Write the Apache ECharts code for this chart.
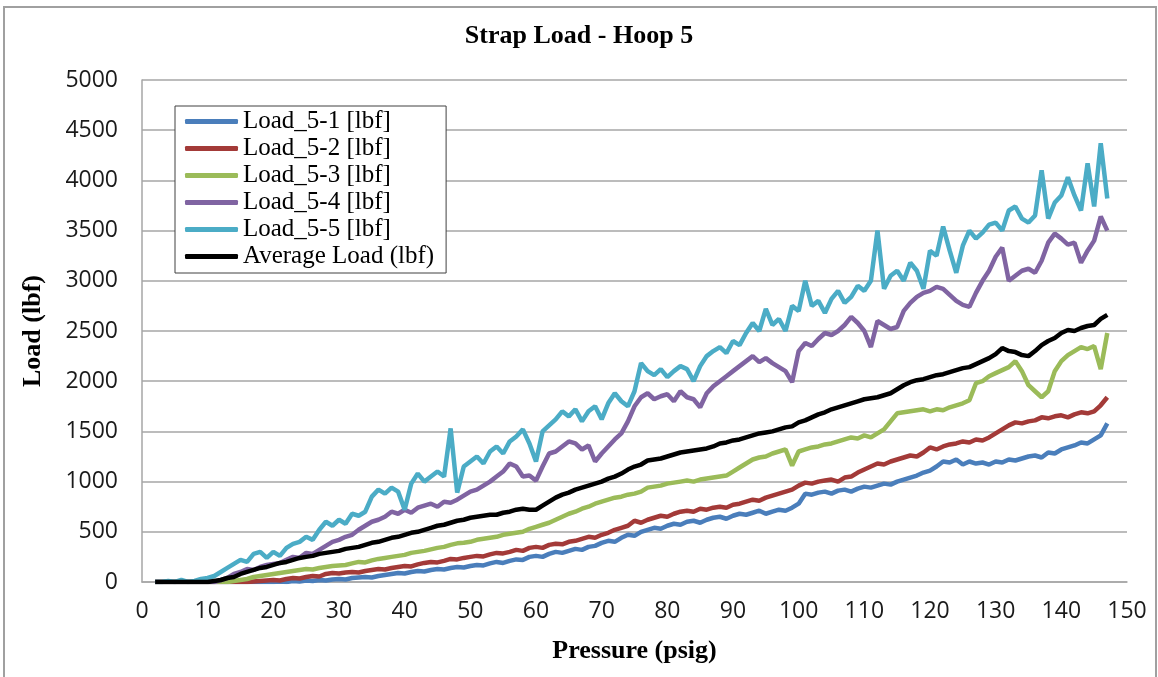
<!DOCTYPE html>
<html>
<head>
<meta charset="utf-8">
<title>Strap Load - Hoop 5</title>
<script src="https://cdn.jsdelivr.net/npm/echarts@6/dist/echarts.min.js"></script>
<style>
  html, body { margin: 0; padding: 0; background: #fff; }
  #main { width: 1158px; height: 677px; }
</style>
</head>
<body>
<div id="main"></div>
<script>
// pressure readings (psig), shared by every series
var pressure = [
  2, 3, 4, 5, 6, 7, 8, 9, 10, 11, 12, 13, 14, 15, 16, 17, 18, 19,
  20, 21, 22, 23, 24, 25, 26, 27, 28, 29,
  30, 31, 32, 33, 34, 35, 36, 37, 38, 39,
  40, 41, 42, 43, 44, 45, 46, 47, 48, 49,
  50, 51, 52, 53, 54, 55, 56, 57, 58, 59,
  60, 61, 62, 63, 64, 65, 66, 67, 68, 69,
  70, 71, 72, 73, 74, 75, 76, 77, 78, 79,
  80, 81, 82, 83, 84, 85, 86, 87, 88, 89,
  90, 91, 92, 93, 94, 95, 96, 97, 98, 99,
  100, 101, 102, 103, 104, 105, 106, 107, 108, 109,
  110, 111, 112, 113, 114, 115, 116, 117, 118, 119,
  120, 121, 122, 123, 124, 125, 126, 127, 128, 129,
  130, 131, 132, 133, 134, 135, 136, 137, 138, 139,
  140, 141, 142, 143, 144, 145, 146, 147
]

var load51 = [
  0, 0, 0, 0, 0, 0, 0, 0, 0, 0, 0, 0, 0, 0, 0, 0, 0, 0,
  0, 5, 0, 10, 5, 15, 10, 20, 15, 25,
  30, 25, 40, 45, 50, 45, 60, 70, 80, 90,
  85, 100, 110, 105, 120, 130, 125, 140, 150, 145,
  160, 170, 165, 185, 200, 190, 210, 225, 220, 250,
  260, 250, 280, 300, 290, 310, 330, 320, 350, 360,
  390, 410, 400, 440, 470, 460, 500, 520, 540, 530,
  560, 580, 570, 600, 610, 590, 620, 640, 650, 630,
  660, 680, 670, 690, 710, 680, 700, 720, 710, 740,
  780, 880, 870, 890, 900, 880, 910, 920, 900, 930,
  950, 940, 960, 980, 970, 1000, 1020, 1040, 1060, 1090,
  1110, 1150, 1200, 1190, 1220, 1170, 1200, 1180, 1190, 1170,
  1200, 1190, 1220, 1210, 1230, 1250, 1260, 1240, 1290, 1280,
  1320, 1340, 1360, 1390, 1380, 1420, 1460, 1580
]

var load52 = [
  0, 0, 0, 0, 0, 0, 0, 0, 0, 0, 0, 0, 0, 0, 0, 5, 10, 15,
  20, 15, 30, 40, 35, 50, 60, 55, 80, 90,
  85, 95, 100, 95, 110, 120, 130, 125, 140, 150,
  160, 155, 175, 190, 200, 195, 210, 230, 225, 240,
  250, 260, 255, 275, 290, 285, 300, 320, 310, 340,
  350, 340, 370, 380, 375, 400, 410, 430, 450, 440,
  470, 490, 520, 540, 560, 610, 590, 620, 640, 660,
  650, 680, 700, 710, 700, 730, 720, 740, 750, 740,
  770, 780, 800, 820, 810, 840, 860, 880, 900, 920,
  960, 990, 980, 1000, 1010, 1020, 1000, 1040, 1050, 1090,
  1120, 1150, 1180, 1170, 1200, 1220, 1240, 1260, 1250, 1290,
  1340, 1320, 1350, 1370, 1380, 1400, 1390, 1420, 1410, 1440,
  1480, 1520, 1560, 1590, 1580, 1600, 1610, 1640, 1630, 1650,
  1660, 1640, 1670, 1690, 1680, 1700, 1760, 1840
]

var load53 = [
  0, 0, 0, 0, 0, 0, 0, 0, 0, 0, 0, 0, 10, 20, 30, 50, 60, 70,
  80, 90, 100, 110, 120, 130, 125, 140, 150, 160,
  165, 170, 185, 200, 195, 215, 230, 240, 250, 260,
  270, 290, 300, 310, 325, 340, 350, 370, 385, 390,
  400, 420, 430, 440, 450, 470, 480, 490, 500, 530,
  550, 570, 590, 620, 650, 680, 700, 730, 750, 780,
  800, 820, 840, 850, 870, 880, 900, 940, 950, 960,
  980, 990, 1000, 1010, 1000, 1020, 1030, 1040, 1050, 1060,
  1100, 1140, 1180, 1220, 1240, 1250, 1280, 1300, 1320, 1160,
  1300, 1320, 1340, 1350, 1370, 1380, 1400, 1420, 1440, 1430,
  1460, 1440, 1480, 1520, 1600, 1680, 1690, 1700, 1710, 1720,
  1700, 1720, 1710, 1740, 1760, 1780, 1810, 1980, 2000, 2050,
  2080, 2110, 2140, 2200, 2100, 1960, 1900, 1840, 1900, 2100,
  2200, 2260, 2300, 2340, 2320, 2350, 2120, 2480
]

var load54 = [
  0, 0, 0, 0, 0, 0, 0, 0, 0, 0, 20, 40, 80, 100, 130, 120, 150, 170,
  180, 190, 220, 250, 240, 290, 280, 320, 360, 400,
  420, 450, 470, 520, 560, 600, 620, 650, 700, 680,
  720, 690, 740, 760, 780, 750, 800, 790, 820, 860,
  900, 920, 960, 1000, 1050, 1100, 1180, 1150, 1050, 1060,
  1010, 1150, 1280, 1300, 1350, 1400, 1380, 1320, 1360, 1200,
  1280, 1350, 1420, 1480, 1600, 1750, 1840, 1880, 1820, 1850,
  1870, 1800, 1900, 1840, 1820, 1740, 1880, 1950, 2000, 2050,
  2100, 2150, 2200, 2250, 2190, 2230, 2180, 2140, 2100, 1990,
  2300, 2380, 2350, 2420, 2480, 2460, 2500, 2560, 2640, 2580,
  2500, 2340, 2600, 2560, 2520, 2540, 2700, 2780, 2840, 2880,
  2900, 2940, 2920, 2860, 2800, 2760, 2740, 2880, 3000, 3100,
  3240, 3330, 3000, 3050, 3100, 3120, 3080, 3200, 3380, 3470,
  3420, 3360, 3380, 3180, 3300, 3400, 3640, 3500
]

var load55 = [
  0, 0, 10, 0, 20, 0, 10, 30, 40, 60, 100, 140, 180, 220, 200, 280, 300, 240,
  300, 260, 340, 380, 400, 450, 420, 520, 600, 560,
  620, 580, 680, 660, 700, 850, 920, 880, 940, 900,
  720, 980, 1080, 1000, 1050, 1100, 1050, 1530, 890, 1150,
  1200, 1250, 1180, 1300, 1350, 1280, 1400, 1450, 1520, 1380,
  1200, 1500, 1560, 1620, 1700, 1650, 1720, 1600, 1700, 1750,
  1620, 1780, 1880, 1800, 1750, 1900, 2180, 2100, 2060, 2120,
  2040, 2100, 2150, 2120, 2000, 2150, 2250, 2300, 2340, 2280,
  2400, 2360, 2480, 2580, 2500, 2720, 2560, 2620, 2500, 2750,
  2700, 3000, 2750, 2800, 2680, 2820, 2900, 2780, 2840, 2950,
  2900, 3000, 3500, 2920, 3050, 3100, 3000, 3180, 3100, 2920,
  3300, 3250, 3540, 3300, 3080, 3350, 3500, 3420, 3480, 3560,
  3580, 3500, 3700, 3740, 3620, 3580, 3650, 4100, 3620, 3780,
  3850, 4030, 3850, 3700, 4170, 3740, 4370, 3820
]

var loadAvg = [
  0, 0, 0, 0, 0, 0, 0, 0, 0, 10, 20, 40, 50, 80, 100, 120, 140, 150,
  170, 190, 200, 220, 240, 250, 260, 280, 290, 300,
  310, 330, 340, 350, 370, 390, 400, 420, 440, 450,
  470, 490, 500, 520, 540, 560, 570, 590, 610, 620,
  640, 650, 660, 670, 670, 690, 700, 720, 730, 720,
  720, 760, 800, 840, 870, 890, 920, 940, 960, 980,
  1000, 1030, 1050, 1080, 1120, 1150, 1170, 1210, 1220, 1230,
  1250, 1270, 1290, 1300, 1310, 1320, 1330, 1350, 1380, 1390,
  1410, 1420, 1440, 1460, 1480, 1490, 1500, 1520, 1540, 1550,
  1590, 1610, 1640, 1670, 1690, 1720, 1740, 1760, 1780, 1800,
  1820, 1830, 1840, 1860, 1880, 1920, 1960, 1990, 2010, 2020,
  2040, 2060, 2070, 2090, 2110, 2130, 2140, 2170, 2200, 2230,
  2270, 2330, 2300, 2290, 2260, 2250, 2300, 2360, 2400, 2430,
  2480, 2510, 2500, 2530, 2550, 2560, 2620, 2660
]

var seriesNames = ['Load_5-1 [lbf]', 'Load_5-2 [lbf]', 'Load_5-3 [lbf]', 'Load_5-4 [lbf]', 'Load_5-5 [lbf]', 'Average Load (lbf)']
var seriesValues = [load51, load52, load53, load54, load55, loadAvg]
var seriesColors = ['#4a7ebb', '#a33a38', '#9bbb59', '#8064a2', '#4bacc6', '#000000']

var serif = '"Liberation Serif", "DejaVu Serif", serif'
var sans = '"Open Sans", "Liberation Sans", sans-serif'

function pairs (values) {
  return pressure.map(function (p, i) { return [p, values[i]] })
}

var myChart = echarts.init(document.getElementById('main'))

var option = {
  animation: false,
  backgroundColor: '#ffffff',
  color: seriesColors,
  title: {
    text: 'Strap Load - Hoop 5',
    left: 'center',
    top: 18,
    textStyle: { fontFamily: serif, fontSize: 26, fontWeight: 'bold', color: '#000' }
  },
  legend: {
    orient: 'vertical',
    left: 175,
    top: 106,
    padding: [2, 12, 3, 10],
    itemGap: 0,
    itemWidth: 53,
    itemHeight: 5,
    icon: 'roundRect',
    borderColor: '#404040',
    borderWidth: 1,
    backgroundColor: '#ffffff',
    data: seriesNames,
    textStyle: { fontFamily: serif, fontSize: 25, lineHeight: 27, color: '#000' }
  },
  grid: {
    left: 142,
    right: 31,
    top: 80,
    bottom: 95
  },
  xAxis: {
    type: 'value',
    min: 0,
    max: 150,
    interval: 10,
    name: 'Pressure (psig)',
    nameLocation: 'middle',
    nameGap: 56,
    nameTextStyle: { fontFamily: serif, fontSize: 26, fontWeight: 'bold', color: '#000' },
    axisLine: { show: true, lineStyle: { color: '#a6a6a6', width: 1.5 } },
    axisTick: { show: false },
    splitLine: { show: false },
    axisLabel: { fontFamily: sans, fontSize: 23, color: '#1a1a1a', margin: 18 }
  },
  yAxis: {
    type: 'value',
    min: 0,
    max: 5000,
    interval: 500,
    name: 'Load (lbf)',
    nameLocation: 'middle',
    nameGap: 96,
    nameTextStyle: { fontFamily: serif, fontSize: 26, fontWeight: 'bold', color: '#000' },
    axisLine: { show: true, lineStyle: { color: '#a6a6a6', width: 1.5 } },
    axisTick: { show: false },
    splitLine: { show: true, lineStyle: { color: '#a6a6a6', width: 1.5 } },
    axisLabel: {
      fontFamily: sans,
      fontSize: 23,
      color: '#1a1a1a',
      margin: 24,
      formatter: function (v) { return String(v) } // no thousands separator
    }
  },
  graphic: [
    {
      // outer chart frame
      type: 'rect',
      shape: { x: 4, y: 7, width: 1152, height: 700 },
      style: { fill: 'none', stroke: '#a0a0a0', lineWidth: 2 },
      silent: true
    }
  ],
  series: seriesNames.map(function (name, k) {
    return {
      name: name,
      type: 'line',
      symbol: 'none',
      showSymbol: false,
      data: pairs(seriesValues[k]),
      lineStyle: { width: 4.5, color: seriesColors[k] },
      itemStyle: { color: seriesColors[k] },
      z: 2 + k
    }
  })
}

myChart.setOption(option)
</script>
</body>
</html>
